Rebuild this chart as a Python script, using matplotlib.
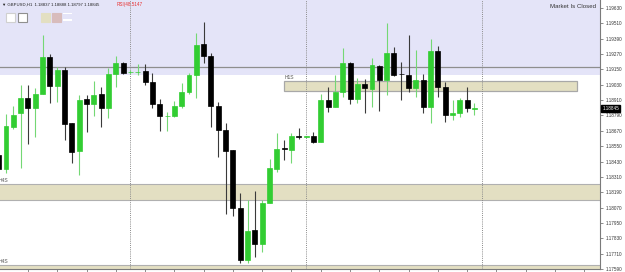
import numpy as np
import matplotlib
matplotlib.use('Agg')
import matplotlib.pyplot as plt
from matplotlib.patches import Rectangle

plt.rcParams['font.family'] = ['Liberation Sans', 'DejaVu Sans']

# GBPUSD H1 bars (index -1 is the cut-off bar on the left)
bar_idx = list(range(-1, 65))
opens = [1.18481, 1.18372, 1.18700, 1.18809, 1.18927, 1.18848, 1.18958, 1.19247,
         1.19020, 1.19145, 1.18731, 1.18512, 1.18919, 1.18880, 1.18958, 1.18848,
         1.19114, 1.19200, 1.19126, 1.19126, 1.19138, 1.19052, 1.18880, 1.18782,
         1.18786, 1.18864, 1.18973, 1.19106, 1.19349, 1.19255, 1.18864, 1.18676,
         1.18520, 1.18067, 1.17660, 1.17895, 1.17785, 1.18106, 1.18372, 1.18532,
         1.18520, 1.18626, 1.18622, 1.18630, 1.18583, 1.18911, 1.18856, 1.18973,
         1.19200, 1.18919, 1.19036, 1.18997, 1.19177, 1.19067, 1.19278, 1.19118,
         1.19106, 1.19005, 1.19067, 1.18856, 1.19294, 1.19013, 1.18794, 1.18809,
         1.18911, 1.18837]
highs = [1.18520, 1.18802, 1.18864, 1.19028, 1.19028, 1.19005, 1.19419, 1.19270,
         1.19169, 1.19169, 1.18731, 1.18950, 1.18950, 1.19059, 1.19013, 1.19161,
         1.19255, 1.19208, 1.19145, 1.19192, 1.19192, 1.19122, 1.18919, 1.18817,
         1.18903, 1.19044, 1.19122, 1.19435, 1.19520, 1.19278, 1.18895, 1.18731,
         1.18520, 1.18184, 1.18129, 1.18200, 1.18129, 1.18450, 1.18653, 1.18598,
         1.18653, 1.18692, 1.18630, 1.18661, 1.18958, 1.19013, 1.19106, 1.19317,
         1.19208, 1.19083, 1.19075, 1.19239, 1.19185, 1.19513, 1.19325, 1.19208,
         1.19419, 1.19302, 1.19114, 1.19388, 1.19333, 1.19052, 1.18911, 1.18927,
         1.19013, 1.18888]
lows = [1.18348, 1.18340, 1.18684, 1.18379, 1.18567, 1.18622, 1.18958, 1.18888,
        1.18895, 1.18598, 1.18419, 1.18325, 1.18661, 1.18786, 1.18700, 1.18770,
        1.19013, 1.19114, 1.19114, 1.19106, 1.19028, 1.18848, 1.18669, 1.18669,
        1.18778, 1.18848, 1.18958, 1.18927, 1.19200, 1.18700, 1.18465, 1.18020,
        1.18004, 1.17637, 1.17637, 1.17684, 1.17723, 1.18106, 1.18348, 1.18442,
        1.18419, 1.18606, 1.18618, 1.18575, 1.18583, 1.18817, 1.18856, 1.18934,
        1.18880, 1.18888, 1.18809, 1.18856, 1.18825, 1.18950, 1.19098, 1.18911,
        1.18973, 1.18934, 1.18809, 1.18731, 1.18934, 1.18739, 1.18755, 1.18778,
        1.18817, 1.18797]
closes = [1.18372, 1.18708, 1.18794, 1.18927, 1.18848, 1.18958, 1.19247, 1.19020,
          1.19145, 1.18723, 1.18505, 1.18911, 1.18880, 1.18950, 1.18848, 1.19114,
          1.19200, 1.19122, 1.19130, 1.19130, 1.19052, 1.18880, 1.18786, 1.18786,
          1.18864, 1.18973, 1.19106, 1.19341, 1.19255, 1.18864, 1.18676, 1.18512,
          1.18067, 1.17660, 1.17887, 1.17785, 1.18106, 1.18379, 1.18528, 1.18528,
          1.18630, 1.18622, 1.18626, 1.18583, 1.18911, 1.18856, 1.18973, 1.19200,
          1.18919, 1.19036, 1.19005, 1.19185, 1.19067, 1.19278, 1.19106, 1.19114,
          1.19005, 1.19067, 1.18856, 1.19294, 1.19013, 1.18794, 1.18809, 1.18911,
          1.18848, 1.18845]

price_ticks = [1.17590, 1.17710, 1.17830, 1.17950, 1.18070, 1.18190, 1.18310,
               1.18430, 1.18550, 1.18670, 1.18790, 1.18910, 1.19030, 1.19150,
               1.19270, 1.19390, 1.19510, 1.19630]
last_price = 1.18845
day_starts = [17, 41, 65]

# zones drawn on the chart
top_zone = (1.19106, 1.19700)
level_line = 1.19169
h1s_zone = (38, 78, 1.18981, 1.19063)
h4s_zone = (1.18129, 1.18254)
h4s_low_zone = (1.17550, 1.17621)

header = '\u25bc GBPUSD,H1  1.18837 1.18888 1.18797 1.18845'
rsi_text = 'RSI(48.5147'

BULL = '#32cd32'
BULL_WICK = '#74d874'
BEAR = '#000000'
BEAR_WICK = '#3a3a3a'
BEIGE = '#e3dfc2'


def draw_candles(ax):
    for i, o, h, l, c in zip(bar_idx, opens, highs, lows, closes):
        up = c >= o
        ax.vlines(i, l, h, color=BULL_WICK if up else BEAR_WICK, lw=0.8, zorder=3)
        body = max(abs(c - o), 0.000008)
        ax.bar(i, body, bottom=min(o, c), width=0.68,
               color=BULL if up else BEAR,
               edgecolor=BULL if up else BEAR, lw=0.5, zorder=4)


def draw_zones(ax):
    ax.axhspan(*top_zone, color='#e4e4f8', lw=0, zorder=0)
    ax.axhline(level_line, color='#8e8e8e', lw=0.9, zorder=1)
    x0, x1, y0, y1 = h1s_zone
    ax.add_patch(Rectangle((x0, y0), x1 - x0, y1 - y0, facecolor=BEIGE,
                           edgecolor='#a8a8a8', lw=0.9, zorder=1))
    ax.text(x0, y1 + 0.00004, 'H1S', fontsize=3.6, color='#555555',
            va='bottom', ha='left')
    for lo, hi in [h4s_zone, h4s_low_zone]:
        ax.axhspan(lo, hi, facecolor=BEIGE, edgecolor='none', zorder=1)
        ax.axhline(lo, color='#b0b0b0', lw=0.8, zorder=1)
        ax.axhline(hi, color='#b0b0b0', lw=0.8, zorder=1)
        ax.text(-1.0, hi + 0.00006, 'H4S', fontsize=3.6, color='#555555',
                va='bottom', ha='left')
    for d in day_starts:
        ax.axvline(d, color='#8a8a8a', lw=0.7, ls=(0, (1, 1.2)), zorder=2)


fig = plt.figure(figsize=(6.25, 2.72), dpi=100, facecolor='white')
ax = fig.add_axes([0, 3 / 272, 600 / 625, 269 / 272])
ax.set_facecolor('white')

draw_zones(ax)
draw_candles(ax)

ax.set_xlim(-0.82, 81.15)
ax.set_ylim(1.17590, 1.196925)

for s in ['top', 'left']:
    ax.spines[s].set_visible(False)
for s in ['right', 'bottom']:
    ax.spines[s].set_color('#7a7a7a')
    ax.spines[s].set_linewidth(0.8)

ax.yaxis.tick_right()
ax.set_yticks(price_ticks)
ax.set_yticklabels(['%.5f' % p for p in price_ticks], fontsize=3.3, color='#333333')
ax.tick_params(axis='y', length=2.5, width=0.6, color='#7a7a7a', pad=1.5)
ax.set_xticks(range(3, 82, 4))
ax.set_xticklabels([])
ax.tick_params(axis='x', length=2.5, width=0.6, color='#7a7a7a')

# current price marker
ax.text(1.004, last_price, '%.5f' % last_price, transform=ax.get_yaxis_transform(),
        fontsize=3.3, color='white', va='center', ha='left', zorder=6,
        bbox=dict(boxstyle='square,pad=0.25', fc='black', ec='black'))

# header and panel icons
fig.text(2 / 625, 1 - 4.5 / 272, header, fontsize=3.05, color='#222222', va='center')
fig.text(117 / 625, 1 - 4.5 / 272, rsi_text, fontsize=3.3, color='#e83030', va='center')
fig.text(596 / 625, 1 - 6.5 / 272, 'Market Is Closed', fontsize=4.4, color='#333333',
         va='center', ha='right')

icons = [(6, 'white', '#d0d0d0'), (17.5, 'white', '#8f8f8f'),
         (40.5, '#e3dfc2', '#e3dfc2'), (52, '#d8bcbc', '#d8bcbc')]
for x, fc, ec in icons:
    fig.patches.append(Rectangle((x / 625, 1 - 22 / 272), 9 / 625, 9 / 272,
                                 transform=fig.transFigure, facecolor=fc,
                                 edgecolor=ec, lw=0.8))
for y in [14, 20.5]:
    fig.patches.append(Rectangle((63 / 625, 1 - y / 272), 9 / 625, 1.3 / 272,
                                 transform=fig.transFigure, facecolor='white',
                                 edgecolor='none'))

fig.savefig('out.png', dpi=100, facecolor='white')
